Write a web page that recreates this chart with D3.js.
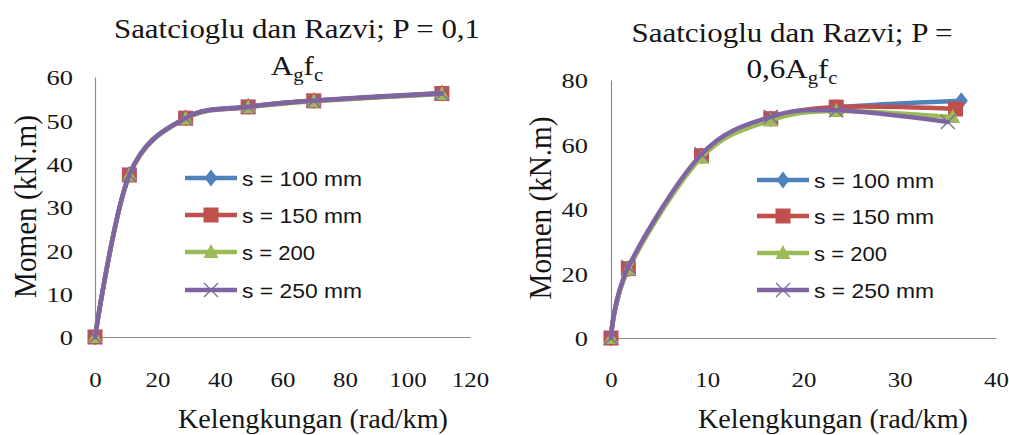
<!DOCTYPE html>
<html><head><meta charset="utf-8">
<script src="https://cdn.jsdelivr.net/npm/d3@7/dist/d3.min.js"></script>
<style>body{margin:0;background:#fff}svg{display:block}</style>
</head><body><svg id="c" width="1009" height="435"></svg>
<script>
// ---- data ----
const seriesNames = ["s = 100 mm", "s = 150 mm", "s = 200", "s = 250 mm"];
const seriesColors = ["#4F81BD", "#C0504D", "#9BBB59", "#8064A2"];
const markerTypes = ["diamond", "square", "triangle", "x"];

// Left chart: P = 0,1 Ag fc
const leftX100 = [0, 11, 29, 49, 70, 111];
const leftY100 = [0, 37.5, 50.6, 53.2, 54.6, 56.3];
const leftX150 = [0, 11, 29, 49, 70, 111];
const leftY150 = [0, 37.4, 50.5, 53.1, 54.5, 56.2];
const leftX200 = [0, 11, 29, 49, 70, 111];
const leftY200 = [0, 37.3, 50.4, 53.0, 54.4, 56.1];
const leftX250 = [0, 11, 29, 49, 70, 111];
const leftY250 = [0, 37.4, 50.5, 53.1, 54.5, 56.2];
const leftXTicks = [0, 20, 40, 60, 80, 100, 120];
const leftYTicks = [0, 10, 20, 30, 40, 50, 60];

// Right chart: P = 0,6 Ag fc
const rightX100 = [0, 1.8, 9.4, 16.6, 23.4, 36.4];
const rightY100 = [0, 21.5, 56.5, 68.0, 71.5, 73.6];
const rightX150 = [0, 1.8, 9.4, 16.6, 23.4, 35.8];
const rightY150 = [0, 21.5, 56.5, 68.0, 71.6, 71.0];
const rightX200 = [0, 1.8, 9.4, 16.6, 23.4, 35.5];
const rightY200 = [0, 21.3, 56.0, 67.5, 70.4, 68.5];
const rightX250 = [0, 1.8, 9.4, 16.6, 23.4, 35.0];
const rightY250 = [0, 22.0, 57.0, 68.6, 70.6, 67.0];
const rightXTicks = [0, 10, 20, 30, 40];
const rightYTicks = [0, 20, 40, 60, 80];

const svg = d3.select("#c");
const TXT = "#151515";
const SERIF = '"Liberation Serif", serif';
const SANS = '"Liberation Sans", sans-serif';

function marker(g, type, x, y, color) {
  if (type === "diamond") {
    g.append("path").attr("d", "M0,-8.5L6.5,0L0,8.5L-6.5,0Z")
      .attr("transform", `translate(${x},${y})`).attr("fill", color);
  } else if (type === "square") {
    g.append("rect").attr("x", x - 7.5).attr("y", y - 7.5).attr("width", 15).attr("height", 15).attr("fill", color);
  } else if (type === "triangle") {
    g.append("path").attr("d", "M0,-8L7.5,6L-7.5,6Z")
      .attr("transform", `translate(${x},${y})`).attr("fill", color);
  } else {
    g.append("path").attr("d", `M${x-7},${y-7}L${x+7},${y+7}M${x-7},${y+7}L${x+7},${y-7}`)
      .attr("stroke", color).attr("stroke-width", 1.3).attr("fill", "none");
  }
}

function drawChart(cfg) {
  const g = svg.append("g");
  const x = d3.scaleLinear().domain(cfg.xDomain).range(cfg.xRange);
  const y = d3.scaleLinear().domain(cfg.yDomain).range(cfg.yRange);

  const xAxis = d3.axisBottom(x).tickValues(cfg.xTicks).tickSize(0).tickPadding(0);
  const yAxis = d3.axisLeft(y).tickValues(cfg.yTicks).tickSize(0).tickPadding(0);

  const gx = g.append("g").attr("transform", `translate(0,${y(0)})`).call(xAxis);
  gx.select(".domain").attr("stroke", "#8c8c8c").attr("stroke-width", 1.2);
  gx.selectAll(".tick text").style("font-family", SERIF).attr("font-size", 22).attr("fill", TXT)
    .attr("dy", 0).attr("y", 0).attr("dominant-baseline", "central")
    .attr("transform", `translate(0,${cfg.xTickY - y(0)}) scale(1.13,1)`);

  const gy = g.append("g").attr("transform", `translate(${x(0)},0)`).call(yAxis);
  gy.select(".domain").attr("stroke", "#8c8c8c").attr("stroke-width", 1.2);
  gy.selectAll(".tick text").style("font-family", SERIF).attr("font-size", 22).attr("fill", TXT)
    .attr("dy", 0).attr("x", 0).attr("dominant-baseline", "central")
    .attr("transform", `translate(${cfg.yTickX - x(0)},0) scale(1.2,1)`);

  const line = d3.line().x(d => x(d[0])).y(d => y(d[1])).curve(d3.curveCardinal.tension(0));
  cfg.series.forEach((s, i) => {
    const pts = s.xs.map((v, k) => [v, s.ys[k]]);
    g.append("path").attr("d", line(pts)).attr("fill", "none")
      .attr("stroke", seriesColors[i]).attr("stroke-width", 4.5).attr("stroke-linecap", "round");
    pts.forEach(p => marker(g, markerTypes[i], x(p[0]), y(p[1]), seriesColors[i]));
  });

  // legend
  seriesNames.forEach((name, i) => {
    const ly = cfg.legendY[i];
    g.append("line").attr("x1", cfg.legendX).attr("x2", cfg.legendX + 52)
      .attr("y1", ly).attr("y2", ly).attr("stroke", seriesColors[i]).attr("stroke-width", 4.5);
    marker(g, markerTypes[i], cfg.legendX + 26, ly, seriesColors[i]);
    g.append("text").style("font-family", SANS).attr("x", cfg.legendX + 57).attr("y", ly)
      .attr("dominant-baseline", "central").attr("font-size", 21).attr("fill", TXT)
      .attr("textLength", name.length > 8 ? 120 : 73).attr("lengthAdjust", "spacingAndGlyphs").text(name);
  });

  // title
  g.append("text").style("font-family", SERIF).attr("x", cfg.titleX).attr("y", cfg.titleY1).attr("text-anchor", "middle")
    .attr("font-size", 27).attr("fill", TXT).attr("textLength", cfg.title1W).attr("lengthAdjust", "spacingAndGlyphs")
    .text(cfg.title1);
  const t2 = g.append("text").style("font-family", SERIF).attr("text-anchor", "middle")
    .attr("transform", `translate(${cfg.titleX},${cfg.titleY2}) scale(1.15,1)`)
    .attr("font-size", 27).attr("fill", TXT);
  t2.append("tspan").text(cfg.title2pre + "A");
  t2.append("tspan").attr("font-size", 18).attr("dy", 6).text("g");
  t2.append("tspan").attr("dy", -6).text("f");
  t2.append("tspan").attr("font-size", 18).attr("dy", 6).text("c");

  // axis titles
  g.append("text").style("font-family", SERIF).attr("x", cfg.xTitleX).attr("y", cfg.xTitleY).attr("text-anchor", "middle")
    .attr("font-size", 27).attr("fill", TXT).attr("textLength", 270).attr("lengthAdjust", "spacingAndGlyphs")
    .text("Kelengkungan (rad/km)");
  g.append("text").style("font-family", SERIF)
    .attr("transform", `translate(${cfg.yTitleX},${cfg.yTitleY}) scale(1.15,1) rotate(-90)`)
    .attr("text-anchor", "middle").attr("font-size", 28).attr("fill", TXT)
    .attr("textLength", 183).attr("lengthAdjust", "spacingAndGlyphs").text("Momen (kN.m)");
}

drawChart({
  xDomain: [0, 120], xRange: [95, 470], yDomain: [0, 60], yRange: [337, 77],
  xTicks: leftXTicks, yTicks: leftYTicks, xTickY: 380, yTickX: 73,
  series: [
    {xs: leftX100, ys: leftY100}, {xs: leftX150, ys: leftY150},
    {xs: leftX200, ys: leftY200}, {xs: leftX250, ys: leftY250}],
  legendX: 185, legendY: [178, 215, 252, 290],
  title1: "Saatcioglu dan Razvi; P = 0,1", title1W: 366, title2pre: "", titleX: 297, titleY1: 38, titleY2: 75,
  xTitleX: 313, xTitleY: 428, yTitleX: 36, yTitleY: 206.5
});

drawChart({
  xDomain: [0, 40], xRange: [611, 996], yDomain: [0, 80], yRange: [338, 80],
  xTicks: rightXTicks, yTicks: rightYTicks, xTickY: 380, yTickX: 588,
  series: [
    {xs: rightX100, ys: rightY100}, {xs: rightX150, ys: rightY150},
    {xs: rightX200, ys: rightY200}, {xs: rightX250, ys: rightY250}],
  legendX: 757, legendY: [180, 216, 253, 290],
  title1: "Saatcioglu dan Razvi; P =", title1W: 321, title2pre: "0,6", titleX: 792, titleY1: 42, titleY2: 78,
  xTitleX: 833, xTitleY: 428, yTitleX: 551, yTitleY: 208
});
</script></body></html>
